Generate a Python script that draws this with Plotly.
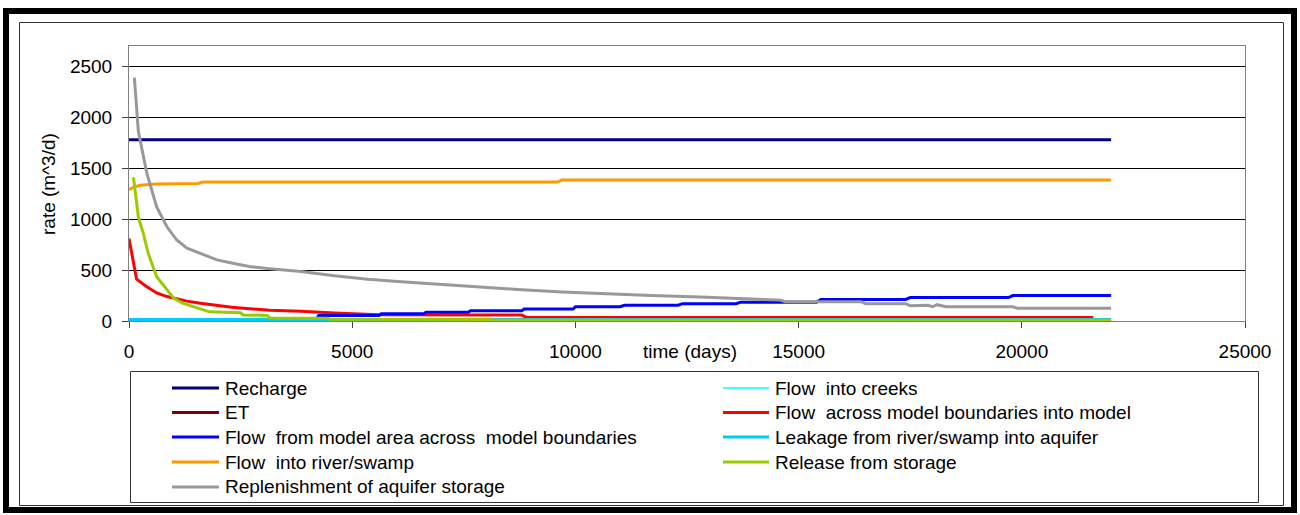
import plotly.graph_objects as go

# ---------------- data ----------------
recharge_t = [0, 22000]
recharge_v = [1780, 1780]

creeks_t = [0, 22000]
creeks_v = [0, 0]

et_t = [0, 22000]
et_v = [0, 0]

across_in_t = [0, 170, 400, 620, 850, 1070, 1300, 1600, 1900, 2300, 2700, 3150, 3850, 4250,
               4600, 5600, 8800, 8900, 21600]
across_in_v = [810, 410, 335, 275, 240, 215, 195, 175, 155, 135, 120, 105, 95, 85,
               78, 62, 58, 35, 35]

from_model_t = [0, 700, 750, 4200, 4250, 5600, 5650, 6600, 6650, 7600, 7650, 8800, 8850, 9950,
                10000, 11000, 11100, 12300, 12400, 13600, 13700, 15400, 15500, 17400, 17500,
                19700, 19800, 22000]
from_model_v = [0, 0, 15, 15, 55, 55, 70, 70, 85, 85, 100, 100, 118, 118,
                140, 140, 155, 155, 170, 170, 185, 185, 212, 212, 230,
                230, 250, 250]

leakage_t = [0, 22000]
leakage_v = [15, 15]

river_t = [0, 100, 250, 600, 1550, 1650, 9600, 9700, 22000]
river_v = [1290, 1315, 1333, 1345, 1350, 1365, 1365, 1385, 1385]

release_t = [100, 210, 320, 430, 620, 850, 1000, 1200, 1450, 1600, 1800, 2500, 2550, 3100,
             3150, 4450, 4500, 8100, 8150, 22000]
release_v = [1410, 1020, 860, 665, 435, 305, 225, 175, 140, 120, 90, 80, 60, 55,
             30, 27, 17, 15, 7, 7]

replen_t = [120, 210, 400, 620, 850, 1070, 1300, 1600, 1970, 2350, 2700, 3100, 3850, 4600,
            5350, 6100, 6900, 7700, 8700, 9700, 10700, 11700, 12800, 13800, 14600, 14700,
            16400, 16500, 17400, 17500, 17900, 18000, 18100, 18300, 19800, 19900, 22000]
replen_v = [2390, 1860, 1450, 1120, 925, 795, 715, 665, 600, 565, 535, 515, 485, 445,
            410, 385, 360, 335, 310, 285, 265, 250, 235, 215, 205, 190,
            190, 170, 170, 150, 155, 140, 160, 140, 140, 125, 125]

series_names = [
    "Recharge", "Flow  into creeks", "ET", "Flow  across model boundaries into model",
    "Flow  from model area across  model boundaries", "Leakage from river/swamp into aquifer",
    "Flow  into river/swamp", "Release from storage", "Replenishment of aquifer storage",
]
series_t = [recharge_t, creeks_t, et_t, across_in_t, from_model_t, leakage_t,
            river_t, release_t, replen_t]
series_v = [recharge_v, creeks_v, et_v, across_in_v, from_model_v, leakage_v,
            river_v, release_v, replen_v]
series_colors = ["#000080", "#00FFFF", "#800000", "#FF0000", "#0000FF", "#00CCFF",
                 "#FF9900", "#99CC00", "#999999"]
series_widths = [3, 1.5, 3, 3, 3, 3, 3, 3, 3]

x_ticks = [0, 5000, 10000, 15000, 20000, 25000]
y_ticks = [0, 500, 1000, 1500, 2000, 2500]

# ---------------- layout geometry ----------------
W, H = 1300, 515
L, R, T, B = 129, 55, 46, 194
PW, PH = W - L - R, H - T - B


def px(xp):
    return (xp - L) / PW


def py(yp):
    return (T + PH - yp) / PH


FONT = "Liberation Sans, Arial, sans-serif"
FS = 19

fig = go.Figure()
for name, t, v, c, w in zip(series_names, series_t, series_v, series_colors, series_widths):
    fig.add_trace(go.Scatter(x=t, y=v, mode="lines", name=name,
                             line=dict(color=c, width=w), showlegend=False))

shapes = []
annotations = []

# outer thick frame and inner thin frame
shapes.append(dict(type="rect", xref="paper", yref="paper",
                   x0=px(6), x1=px(1294), y0=py(11), y1=py(510),
                   line=dict(color="black", width=6)))
shapes.append(dict(type="rect", xref="paper", yref="paper",
                   x0=px(19.5), x1=px(1283.5), y0=py(22.5), y1=py(505.5),
                   line=dict(color="#333333", width=1)))
# legend box
shapes.append(dict(type="rect", xref="paper", yref="paper",
                   x0=px(130.5), x1=px(1258.5), y0=py(371.5), y1=py(502.5),
                   line=dict(color="#333333", width=1)))

# manual legend, row-major two columns
row_y = [388, 412.5, 437, 462, 487]
col_line = [(172, 219), (723, 769)]
col_text = [223, 773]
for i, (name, c, w) in enumerate(zip(series_names, series_colors, series_widths)):
    r, col = divmod(i, 2)
    y = py(row_y[r])
    shapes.append(dict(type="line", xref="paper", yref="paper",
                       x0=px(col_line[col][0]), x1=px(col_line[col][1]), y0=y, y1=y,
                       line=dict(color=c, width=w)))
    annotations.append(dict(text=name.replace("  ", "&nbsp; "), xref="paper", yref="paper",
                            x=px(col_text[col]), y=y, xanchor="left", yanchor="middle",
                            showarrow=False, font=dict(family=FONT, size=FS, color="black")))

# axis titles
annotations.append(dict(text="time (days)", xref="paper", yref="paper",
                        x=px(690), y=py(351), xanchor="center", yanchor="middle",
                        showarrow=False, font=dict(family=FONT, size=FS, color="black")))
annotations.append(dict(text="rate (m^3/d)", xref="paper", yref="paper",
                        x=px(48), y=py(184), xanchor="center", yanchor="middle",
                        textangle=-90, showarrow=False,
                        font=dict(family=FONT, size=FS, color="black")))

fig.update_layout(
    width=W, height=H, autosize=False,
    margin=dict(l=L, r=R, t=T, b=B, pad=0),
    paper_bgcolor="white", plot_bgcolor="white",
    font=dict(family=FONT, size=FS, color="black"),
    shapes=shapes, annotations=annotations,
    showlegend=False,
    xaxis=dict(range=[0, 25000], tickvals=x_ticks, ticktext=[str(v) for v in x_ticks],
               showgrid=False, zeroline=False, showline=True, mirror=True,
               linecolor="#808080", linewidth=1,
               ticks="outside", ticklen=6, tickcolor="#404040",
               ticklabelstandoff=7,
               tickfont=dict(family=FONT, size=FS, color="black")),
    yaxis=dict(range=[0, 2700], tickvals=y_ticks, ticktext=[str(v) for v in y_ticks],
               showgrid=True, gridcolor="#000000", gridwidth=1,
               zeroline=False, showline=True, mirror=True,
               linecolor="#808080", linewidth=1,
               ticks="outside", ticklen=6, tickcolor="#404040",
               ticklabelstandoff=6,
               tickfont=dict(family=FONT, size=FS, color="black")),
)

fig.write_html("out.html",
               config={"displayModeBar": False},
               post_script="document.body.style.margin='0px';"
                           "document.body.style.overflow='hidden';")
